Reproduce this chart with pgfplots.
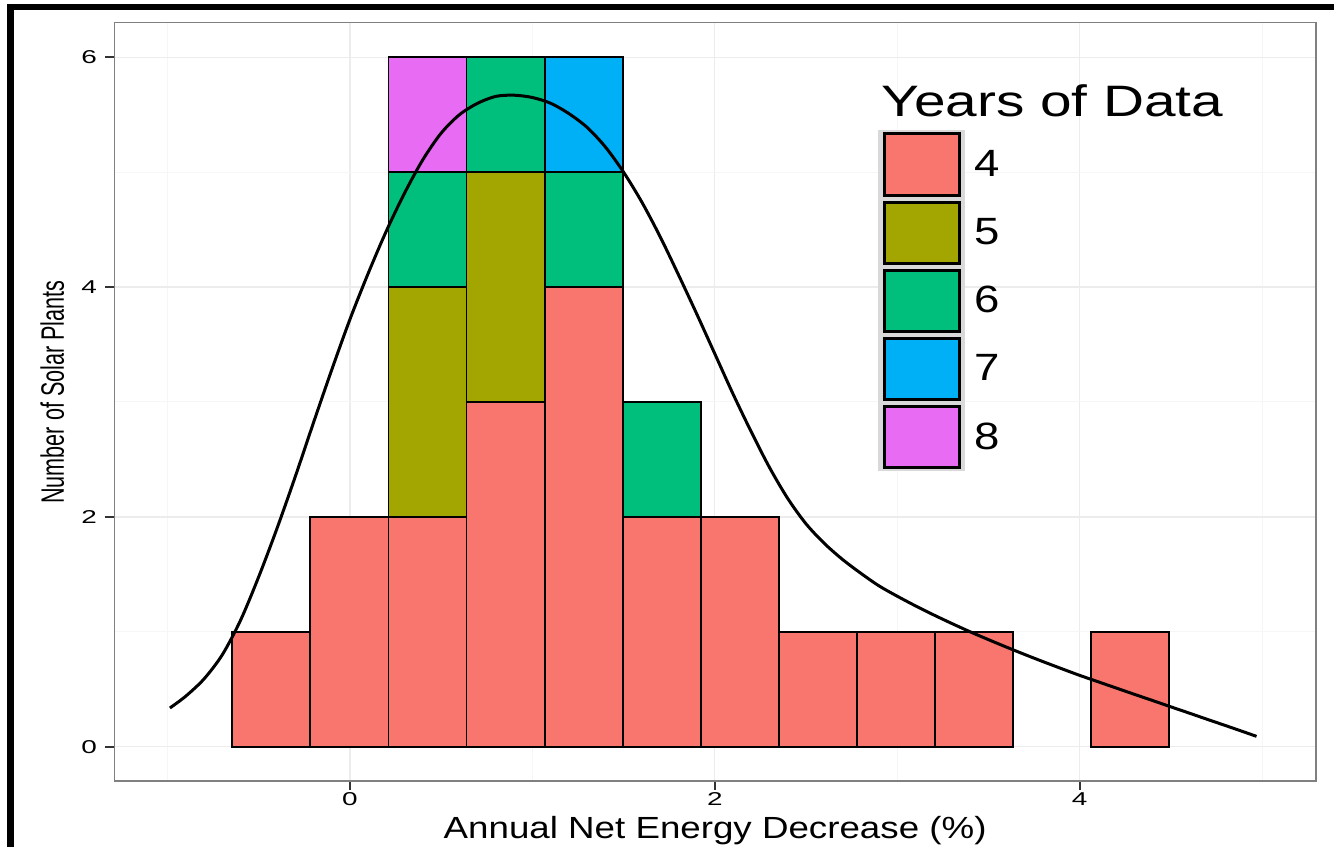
\documentclass[border=0pt]{standalone}
\usepackage{pgfplots}
\pgfplotsset{compat=1.18}
\usepackage{fontspec}
\setmainfont{Liberation Sans}
\usepackage{graphicx}
\definecolor{c4}{HTML}{F8766D}
\definecolor{c5}{HTML}{A3A500}
\definecolor{c6}{HTML}{00BF7D}
\definecolor{c7}{HTML}{00B0F6}
\definecolor{c8}{HTML}{E76BF3}
\newcommand{\sx}[2]{\scalebox{#1}[1]{#2}}
\begin{document}
\begin{tikzpicture}
\path[use as bounding box] (0pt,0pt) rectangle (667pt,423.5pt);
\begin{axis}[
  at={(57.15pt,33pt)}, anchor=south west,
  scale only axis, width=600.85pt, height=379.15pt,
  xmin=-1.292, xmax=5.296, ymin=-0.2985, ymax=6.301,
  ybar stacked, bar width=0.428, reverse stacked plots=false,
  axis line style={draw=gray, line width=0.8pt},
  tick pos=left, tick align=outside,
  major tick length=4.5pt, minor tick length=0pt,
  tick style={black!80, line width=0.9pt},
  xtick={0,2,4}, minor xtick={-1,1,3,5},
  ytick={0,2,4,6}, minor ytick={1,3,5},
  xticklabels={\sx{1.5}{0},\sx{1.5}{2},\sx{1.5}{4}},
  yticklabels={\sx{1.5}{0},\sx{1.5}{2},\sx{1.5}{4},\sx{1.5}{6}},
  xticklabel style={font=\fontsize{9.3}{11}\selectfont, inner sep=0pt, yshift=-1pt},
  yticklabel style={font=\fontsize{9.3}{11}\selectfont, inner sep=0pt, xshift=-4pt},
  grid=both,
  major grid style={gray!15, line width=0.7pt},
  minor grid style={gray!7, line width=0.5pt},
  xlabel={\sx{1.2}{Annual Net Energy Decrease (\%)}},
  xlabel style={font=\fontsize{15.3}{18}\selectfont, at={(axis description cs:0.5,0)}, anchor=base, yshift=-28.5pt, inner sep=0pt},
  ylabel={\scalebox{1}[1.5]{Number of Solar Plants}},
  ylabel style={font=\fontsize{10.8}{13}\selectfont, at={(axis description cs:-0.0516,0.513)}, anchor=center, inner sep=0pt},
  legend style={at={(axis description cs:0.6355,0.8585)}, anchor=north west, draw=none, fill=none, inner sep=0pt, row sep=0pt, column sep=4.5pt, font=\fontsize{19}{22}\selectfont, nodes={inner sep=0pt}},
  legend cell align=left,
  legend image code/.code={
    \fill[gray!30] (-2pt,-16.6pt) rectangle (40.5pt,16.6pt);
    \draw[#1, draw=black, line width=1.5pt] (0.75pt,-15.25pt) rectangle (38.25pt,15.25pt);
  },
]
\addplot[fill=c4, draw=black, line width=0.9pt] coordinates {
(-0.431,1) (-0.003,2) (0.425,2) (0.853,3) (1.281,4) (1.709,2) (2.137,2) (2.565,1) (2.993,1) (3.421,1) (3.849,0) (4.277,1) (4.705,0)};
\addlegendentry{\sx{1.2}{4}}
\addplot[fill=c5, draw=black, line width=0.9pt] coordinates {
(-0.431,0) (-0.003,0) (0.425,2) (0.853,2) (1.281,0) (1.709,0) (2.137,0) (2.565,0) (2.993,0) (3.421,0) (3.849,0) (4.277,0) (4.705,0)};
\addlegendentry{\sx{1.2}{5}}
\addplot[fill=c6, draw=black, line width=0.9pt] coordinates {
(-0.431,0) (-0.003,0) (0.425,1) (0.853,1) (1.281,1) (1.709,1) (2.137,0) (2.565,0) (2.993,0) (3.421,0) (3.849,0) (4.277,0) (4.705,0)};
\addlegendentry{\sx{1.2}{6}}
\addplot[fill=c7, draw=black, line width=0.9pt] coordinates {
(-0.431,0) (-0.003,0) (0.425,0) (0.853,0) (1.281,1) (1.709,0) (2.137,0) (2.565,0) (2.993,0) (3.421,0) (3.849,0) (4.277,0) (4.705,0)};
\addlegendentry{\sx{1.2}{7}}
\addplot[fill=c8, draw=black, line width=0.9pt] coordinates {
(-0.431,0) (-0.003,0) (0.425,1) (0.853,0) (1.281,0) (1.709,0) (2.137,0) (2.565,0) (2.993,0) (3.421,0) (3.849,0) (4.277,0) (4.705,0)};
\addlegendentry{\sx{1.2}{8}}
\addplot[smooth, tension=0.5, stack plots=false, black, line width=1.5pt, mark=none, forget plot] coordinates {
(-0.987,0.337) (-0.9,0.44) (-0.8,0.59) (-0.7,0.80) (-0.6,1.10) (-0.5,1.48) (-0.4,1.90) (-0.3,2.35) (-0.2,2.82) (-0.1,3.28) (0.0,3.72) (0.1,4.12) (0.2,4.49) (0.3,4.82) (0.4,5.11) (0.5,5.34) (0.6,5.50) (0.7,5.60) (0.8,5.66) (0.9,5.67) (1.0,5.65) (1.1,5.60) (1.2,5.51) (1.3,5.39) (1.4,5.22) (1.5,5.00) (1.6,4.74) (1.7,4.44) (1.8,4.11) (1.9,3.77) (2.0,3.42) (2.1,3.07) (2.2,2.74) (2.3,2.43) (2.4,2.16) (2.5,1.94) (2.6,1.77) (2.7,1.63) (2.8,1.51) (2.9,1.40) (3.0,1.31) (3.1,1.226) (3.2,1.147) (3.3,1.072) (3.4,1.000) (3.5,0.932) (3.6,0.866) (3.7,0.802) (3.8,0.740) (3.9,0.680) (4.0,0.621) (4.1,0.566) (4.2,0.511) (4.3,0.456) (4.4,0.402) (4.5,0.347) (4.6,0.293) (4.7,0.238) (4.8,0.184) (4.9,0.129) (4.97,0.09)};
\end{axis}
\node[anchor=base west, inner sep=0pt] at (440.5pt,365.15pt) {\fontsize{22}{26}\selectfont\sx{1.29}{Years of Data}};
\draw[black, line width=3pt] (3.5pt,420pt) -- (667pt,420pt);
\draw[black, line width=3.5pt] (5.25pt,0pt) -- (5.25pt,421.5pt);
\end{tikzpicture}
\end{document}
